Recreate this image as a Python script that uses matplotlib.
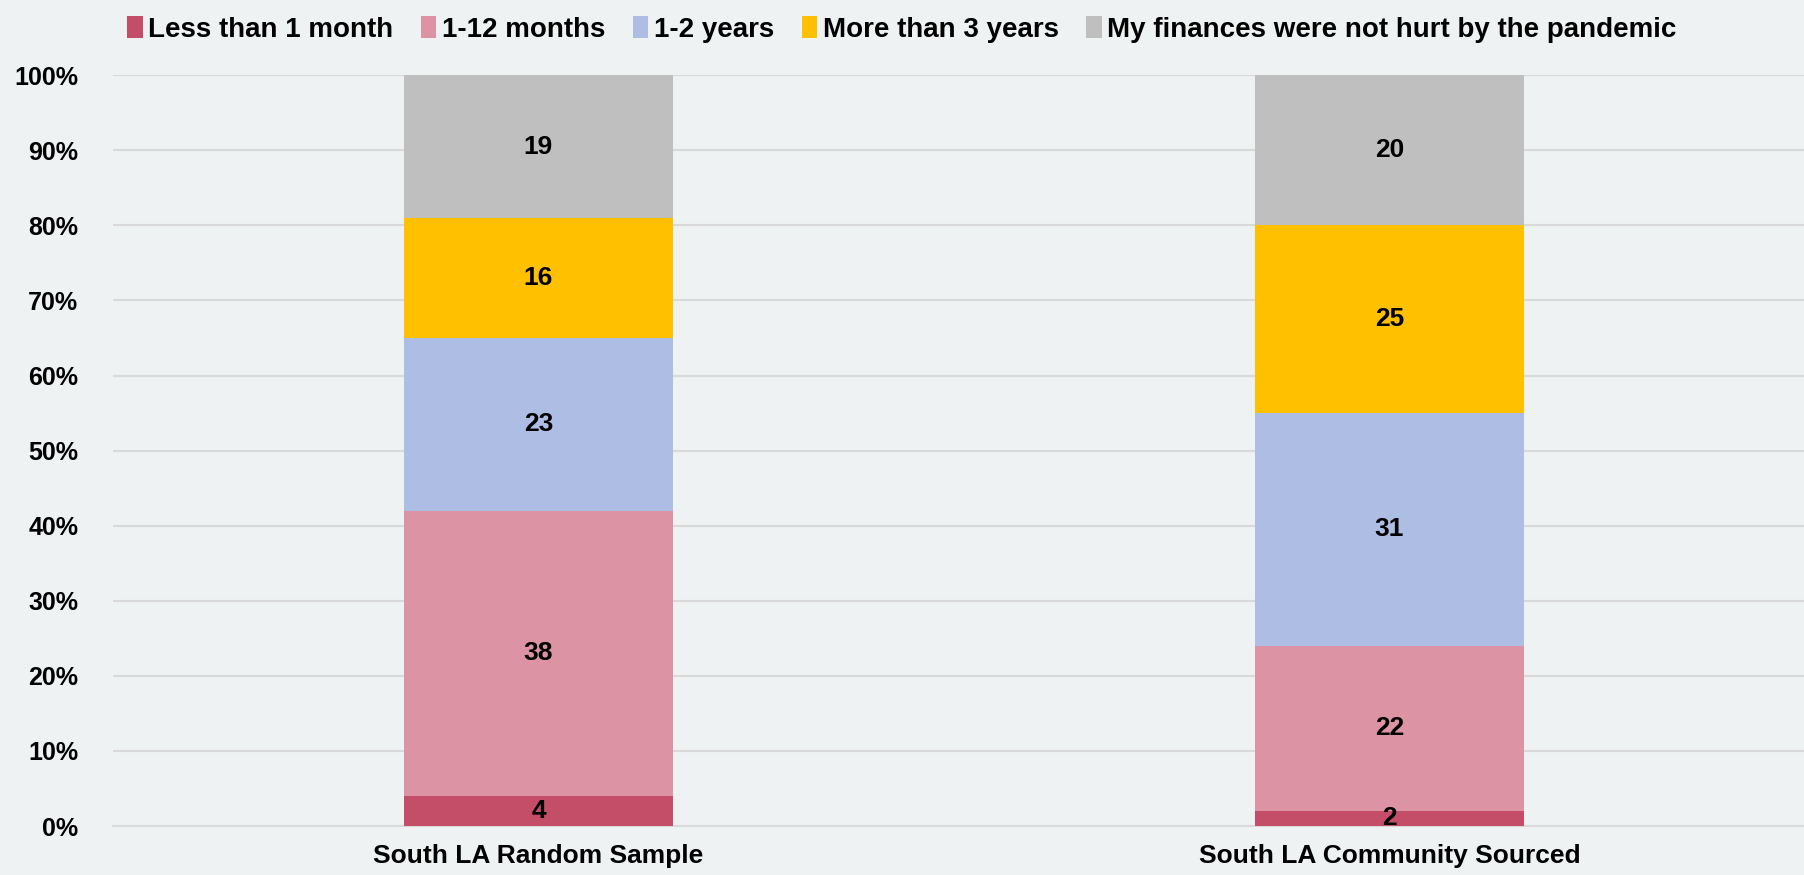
import numpy as np
import matplotlib
matplotlib.use("Agg")
import matplotlib.pyplot as plt

# --- data (percent of respondents) ---
groups = ["South LA Random Sample", "South LA Community Sourced"]
series = ["Less than 1 month", "1-12 months", "1-2 years", "More than 3 years",
          "My finances were not hurt by the pandemic"]
less_1m = [4, 2]
m1_12 = [38, 22]
y1_2 = [23, 31]
more_3y = [16, 25]
not_hurt = [19, 20]
values = [less_1m, m1_12, y1_2, more_3y, not_hurt]
colors = ["#C44E68", "#DC93A4", "#AEBDE4", "#FFC000", "#BFBFBF"]

BG = "#EEF2F3"
plt.rcParams.update({"font.family": ["Liberation Sans", "DejaVu Sans"], "font.weight": "bold"})

fig = plt.figure(figsize=(18.04, 8.75), dpi=100, facecolor=BG)
ax = fig.add_axes([0.0626, 0.056, 0.9435, 0.858], facecolor=BG)

x = np.arange(len(groups))
bottom = np.zeros(len(groups))
for name, vals, c in zip(series, values, colors):
    bars = ax.bar(x, vals, bottom=bottom, width=0.316, color=c, label=name, zorder=3)
    ax.bar_label(bars, labels=[str(v) for v in vals], label_type="center",
                 fontsize=19, fontweight="bold", color="black", zorder=4)
    bottom += np.array(vals)

ax.set_xlim(-0.5, 1.5)
ax.set_ylim(0, 100)
ax.set_yticks(np.arange(0, 101, 10))
ax.set_yticklabels([f"{v}%" for v in range(0, 101, 10)], fontsize=18, fontweight="bold")
ax.set_xticks(x)
ax.set_xticklabels(groups, fontsize=19, fontweight="bold")
ax.grid(axis="y", color="#D9D9D9", lw=1.5, zorder=0)
for s in ("top", "left", "right"):
    ax.spines[s].set_visible(False)
ax.spines["bottom"].set_color("#D9D9D9")
ax.spines["bottom"].set_linewidth(1.5)
ax.tick_params(length=0)
ax.tick_params(axis="y", pad=25)
ax.tick_params(axis="x", pad=13)

fig.legend(loc="upper center", bbox_to_anchor=(0.5, 1.01), ncol=5, frameon=False,
           prop={"size": 20, "weight": "bold"}, handlelength=0.55, handleheight=0.8,
           handletextpad=0.2, columnspacing=1.0)

fig.savefig("out.png", dpi=100, facecolor=BG)
